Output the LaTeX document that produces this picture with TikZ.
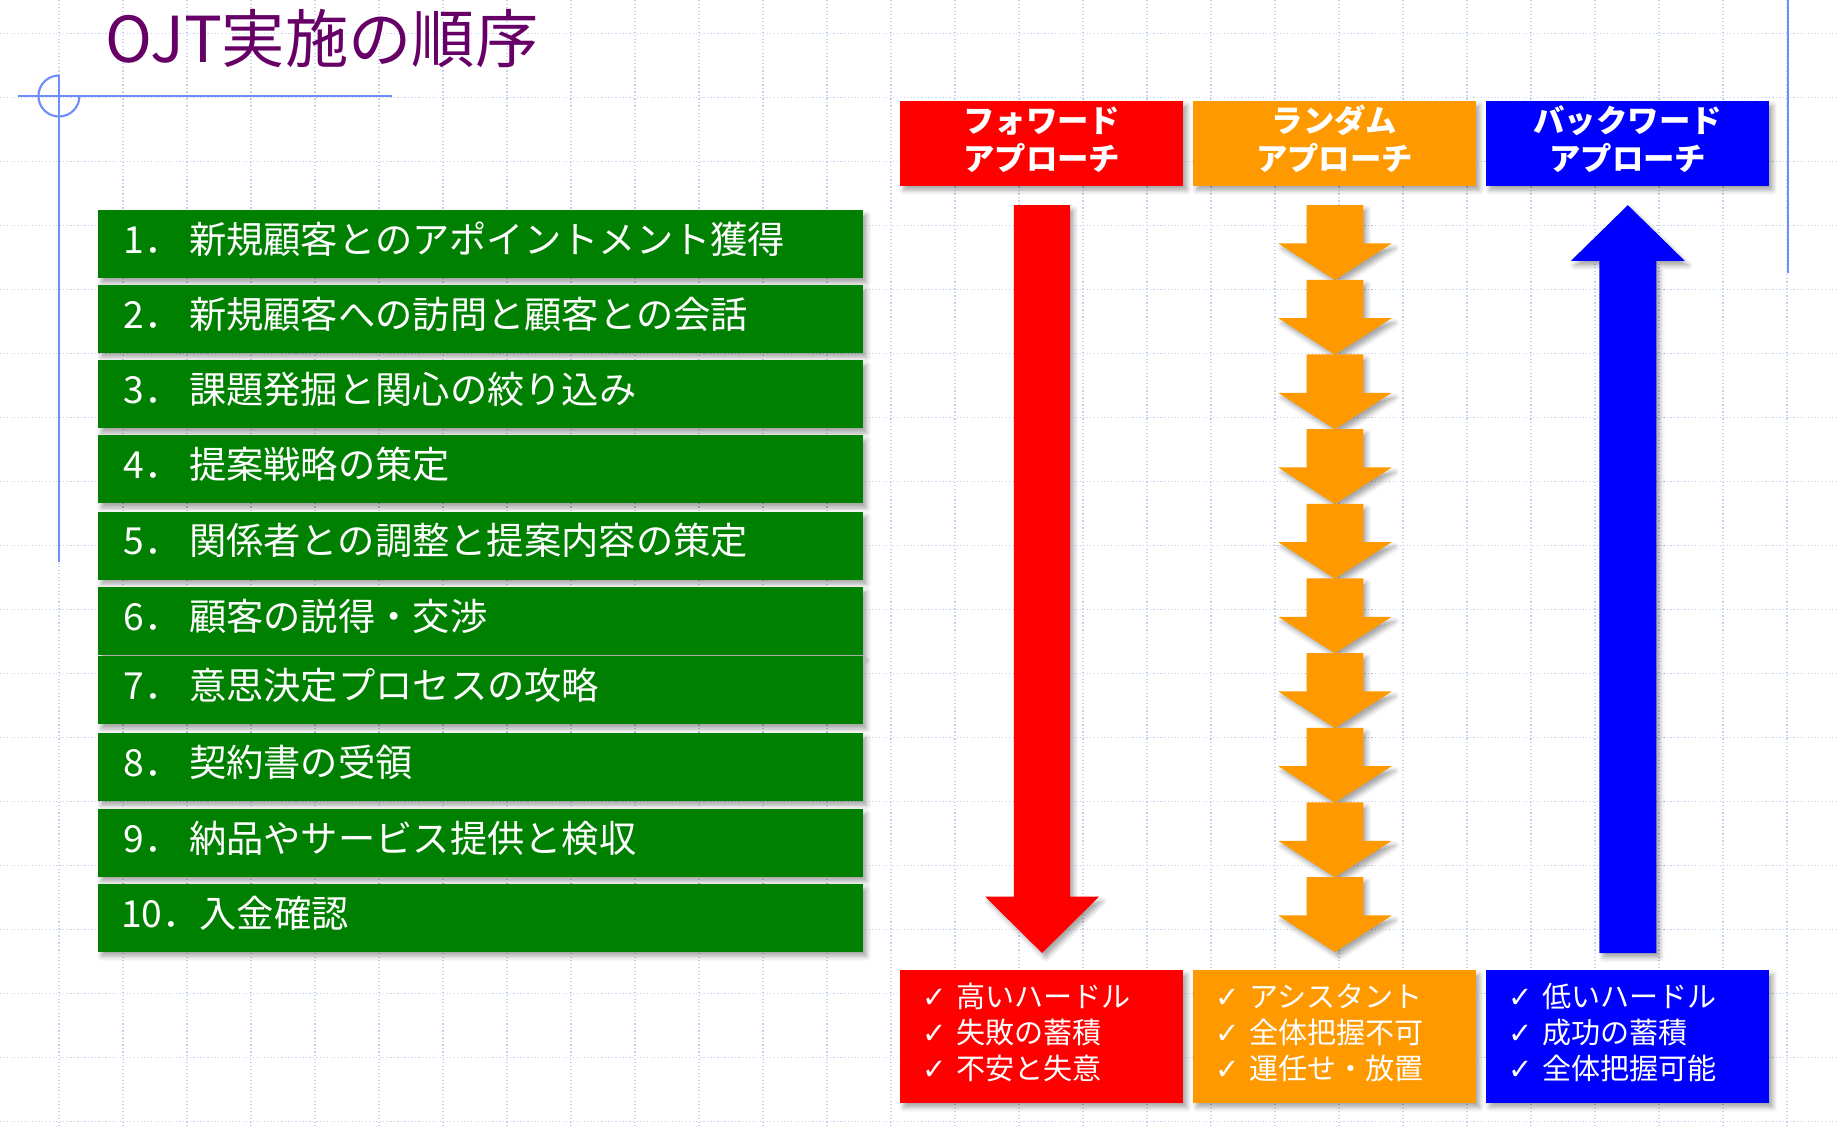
\documentclass[tikz,border=0pt]{standalone}
\usepackage{fontspec}
\setmainfont{Noto Sans CJK JP}
\newfontfamily\symfont{DejaVu Sans}
\usetikzlibrary{shadows.blur}
\definecolor{ojtpurple}{RGB}{102,0,102}
\definecolor{ojtgreen}{RGB}{0,128,0}
\definecolor{ojtred}{RGB}{255,0,0}
\definecolor{ojtorange}{RGB}{255,153,0}
\definecolor{ojtblue}{RGB}{0,0,255}
\definecolor{decoblue}{RGB}{110,140,250}
\definecolor{gridblue}{RGB}{195,210,240}
\newcommand{\stepitem}[3][1.76em]{\makebox[#1][l]{#2．}#3}
\newcommand{\chk}{\makebox[14.5pt][l]{{\symfont ✓}}}

\begin{document}
\begin{tikzpicture}[x=0.5pt, y=-0.5pt,
    gridline/.style={gridblue, densely dotted, line width=0.5pt},
    decoline/.style={decoblue, line width=0.9pt},
    softshadow/.style={blur shadow={shadow xshift=1.5pt, shadow yshift=-2pt, shadow blur radius=2pt, shadow opacity=35}},
    stepbox/.style={anchor=north west, fill=ojtgreen, text=white, minimum height=29pt,
        text width=304.5pt, inner xsep=11pt, inner ysep=0pt, align=left,
        text height=12pt, text depth=4pt, font=\fontsize{15.9pt}{19pt}\selectfont, softshadow},
    headbox/.style={minimum width=120.8pt, minimum height=36.2pt, inner sep=0pt, text=white,
        align=center, text height=26pt, text depth=2.5pt,
        font=\bfseries\fontsize{13.4pt}{16.25pt}\selectfont, softshadow},
    notebox/.style={minimum height=56.6pt, text width=101.8pt, inner xsep=9.5pt, inner ysep=0pt,
        text=white, align=left, text height=10pt, text depth=35pt,
        font=\fontsize{12.4pt}{15.5pt}\selectfont, softshadow}]
    \useasboundingbox (0,0) rectangle (1568,963);

    % Background grid
    \foreach \gx in {0,...,27}
        \draw[gridline] ({50.3+54.6*\gx},0) -- ({50.3+54.6*\gx},963);
    \foreach \gy in {0,...,17}
        \draw[gridline] (0,{28.6+54.6*\gy}) -- (1568,{28.6+54.6*\gy});

    % Slide decoration
    \draw[decoline] (15.4,81.9) -- (334.6,81.9);
    \draw[decoline] (50.3,64.4) -- (50.3,479.6);
    \draw[decoline] (50.3,64.4) arc[start angle=270, end angle=0, radius=17.5];
    \draw[decoline] (1525.4,0) -- (1525.4,233);

    % Title
    \node[anchor=west, inner sep=0pt, text=ojtpurple, font=\fontsize{27pt}{30pt}\selectfont] (title) at (90,33) {OJT実施の順序};

    % Steps
    \node[stepbox] (s1) at (83,179) {\stepitem{1}{新規顧客とのアポイントメント獲得}};
    \node[stepbox] (s2) at (83,242.5) {\stepitem{2}{新規顧客への訪問と顧客との会話}};
    \node[stepbox] (s3) at (83,307) {\stepitem{3}{課題発掘と関心の絞り込み}};
    \node[stepbox] (s4) at (83,371) {\stepitem{4}{提案戦略の策定}};
    \node[stepbox] (s5) at (83,436) {\stepitem{5}{関係者との調整と提案内容の策定}};
    \node[stepbox] (s6) at (83,500.4) {\stepitem{6}{顧客の説得・交渉}};
    \node[stepbox] (s7) at (83,559.6) {\stepitem{7}{意思決定プロセスの攻略}};
    \node[stepbox] (s8) at (83,624.7) {\stepitem{8}{契約書の受領}};
    \node[stepbox] (s9) at (83,689.5) {\stepitem{9}{納品やサービス提供と検収}};
    \node[stepbox] (s10) at (83,753.5) {\hspace{-1pt}\stepitem[2.1em]{10}{入金確認}};

    % Approach headers
    \node[headbox, fill=ojtred] (fwd) at (888.8,122.2) {フォワード\\アプローチ};
    \node[headbox, fill=ojtorange] (rnd) at (1138.5,122.2) {ランダム\\アプローチ};
    \node[headbox, fill=ojtblue] (bwd) at (1388.6,122.2) {バックワード\\アプローチ};

    % Arrows
    \fill[ojtred, softshadow] (865,175) -- (913,175) -- (913,765) -- (937.5,765)
        -- (889,813) -- (840.5,765) -- (865,765) -- cycle;
    \foreach \k in {0,...,9} {
        \pgfmathsetmacro{\ay}{175+63.7*\k}
        \fill[ojtorange, softshadow] (1114.6,\ay) -- (1163,\ay) -- (1163,{\ay+32.7})
            -- (1187.2,{\ay+32.7}) -- (1138.8,{\ay+63.9}) -- (1090.5,{\ay+32.7})
            -- (1114.6,{\ay+32.7}) -- cycle;
    }
    \fill[ojtblue, softshadow] (1388.7,175) -- (1437.3,222.6) -- (1413,222.6) -- (1413,813)
        -- (1364.5,813) -- (1364.5,222.6) -- (1340.1,222.6) -- cycle;

    % Notes
    \node[notebox, fill=ojtred] (fwdnote) at (888.8,884.1) {\chk 高いハードル\\\chk 失敗の蓄積\\\chk 不安と失意};
    \node[notebox, fill=ojtorange] (rndnote) at (1138.5,884.1) {\chk アシスタント\\\chk 全体把握不可\\\chk 運任せ・放置};
    \node[notebox, fill=ojtblue] (bwdnote) at (1388.6,884.1) {\chk 低いハードル\\\chk 成功の蓄積\\\chk 全体把握可能};
\end{tikzpicture}
\end{document}
